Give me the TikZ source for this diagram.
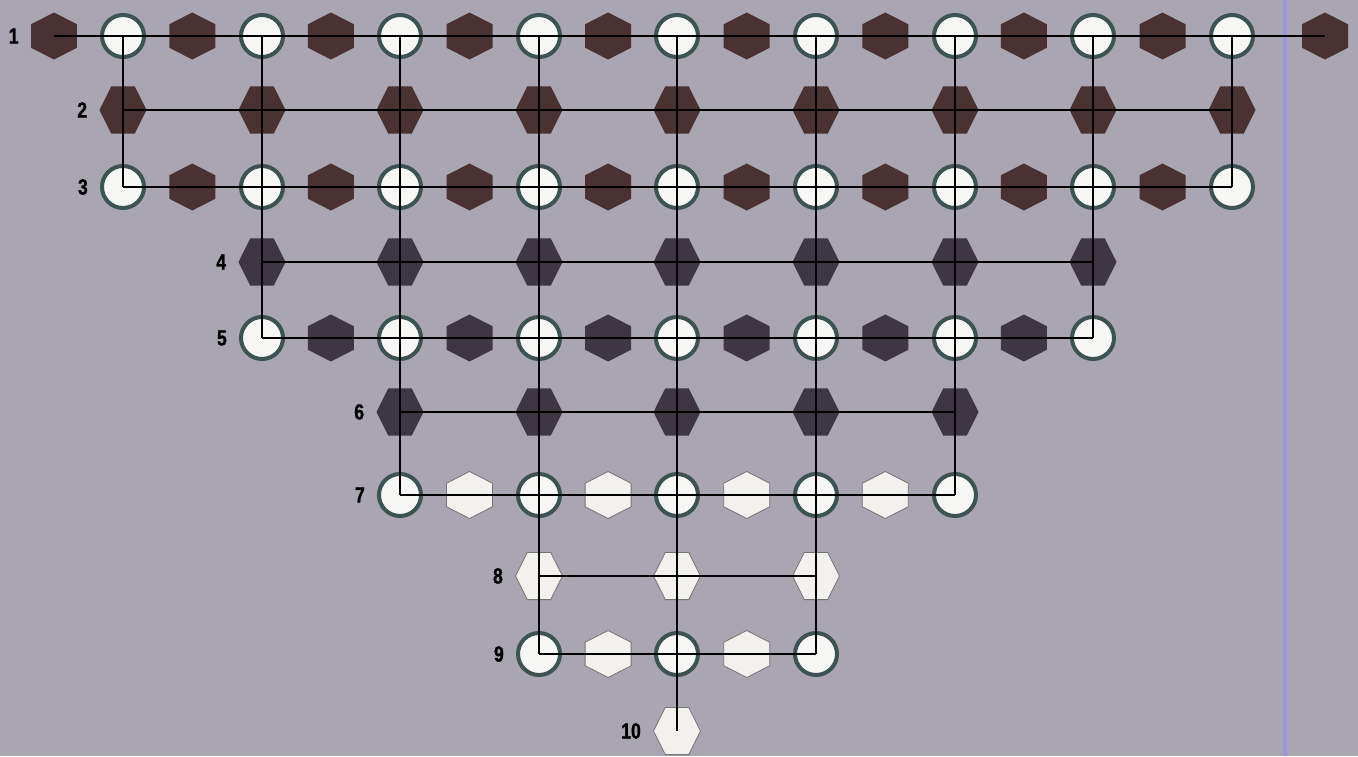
\documentclass[tikz,border=0pt]{standalone}
\usepackage{fontspec}
\usetikzlibrary{shapes.geometric,positioning}
\newfontfamily\numfont[FakeStretch=0.8,FakeBold=1.2]{Liberation Sans}
\definecolor{paper}{HTML}{A9A5B1}
\definecolor{scanblue}{HTML}{9494EE}
\definecolor{hexbrown}{HTML}{4A3233}
\definecolor{hexplum}{HTML}{3E3642}
\definecolor{hexpale}{HTML}{F3F1EE}
\definecolor{holerim}{HTML}{3D5352}
\definecolor{holefill}{HTML}{F6F7F5}
\tikzset{
  hole/.style={circle, draw=holerim, line width=4pt, fill=holefill, minimum size=42pt, inner sep=0pt},
  hexup/.style={regular polygon, regular polygon sides=6, shape border rotate=30, minimum size=47pt, inner sep=0pt, xscale=1.13},
  hexflat/.style={regular polygon, regular polygon sides=6, minimum size=47pt, inner sep=0pt, yscale=1.16},
  hexA/.style={fill=hexbrown},
  hexB/.style={fill=hexplum},
  hexC/.style={fill=hexpale, draw=black!55, line width=0.8pt},
  wire/.style={line width=2pt, black},
  rowno/.style={font=\numfont\bfseries\fontsize{22}{22}\selectfont, inner sep=0pt}
}
\begin{document}
\begin{tikzpicture}[x=1pt,y=-1pt]
\useasboundingbox (0,0) rectangle (1358,756);
\fill[paper] (0,0) rectangle (1358,756);
\draw[line width=4.5pt, scanblue, opacity=0.8] (1285,0) -- (1285,756);
% rows of holes
\foreach \r/\y/\a/\b in {1/36/1/9, 3/187/1/9, 5/338/2/8, 7/495/3/7, 9/654/4/6}
  \foreach \c in {\a,...,\b}
    \node[hole] (r\r-\c) at ({round(123+138.6*(\c-1))},\y) {};
% hexagons between the holes
\foreach \r/\y/\a/\b/\s in {1/36/1/8/hexA, 3/187/1/8/hexA, 5/338/2/7/hexB, 7/495/3/6/hexC, 9/654/4/5/hexC}
  \foreach \c in {\a,...,\b}
    \node[hexup,\s] (m\r-\c) at ({192.3+138.6*(\c-1)},\y) {};
\node[hexup,hexA] (m1-0) at (54,36) {};
\node[hexup,hexA] (m1-9) at (1325,36) {};
% rows of hexagons under the holes
\foreach \r/\y/\a/\b/\s in {2/110/1/9/hexA, 4/262/2/8/hexB, 6/412/3/7/hexB, 8/576/4/6/hexC, 10/731/5/5/hexC}
  \foreach \c in {\a,...,\b}
    \node[hexflat,\s] (r\r-\c) at ({round(123+138.6*(\c-1))},\y) {};
% row numbers
\foreach \r/\n in {1/m1-0, 2/r2-1, 3/r3-1, 4/r4-2, 5/r5-2, 6/r6-3, 7/r7-3, 8/r8-4, 9/r9-4, 10/r10-5}
  \node[rowno, left=12pt of \n] (no\r) {\r};
% wires
\draw[wire] (m1-0.center) -- (m1-9.center);
\foreach \r/\a/\b in {2/1/9, 3/1/9, 4/2/8, 5/2/8, 6/3/7, 7/3/7, 8/4/6, 9/4/6}
  \draw[wire] (r\r-\a.center) -- (r\r-\b.center);
\foreach \c/\e in {1/3, 2/5, 3/7, 4/9, 5/10, 6/9, 7/7, 8/5, 9/3}
  \draw[wire] (r1-\c.center) -- (r\e-\c.center);
\end{tikzpicture}
\end{document}
